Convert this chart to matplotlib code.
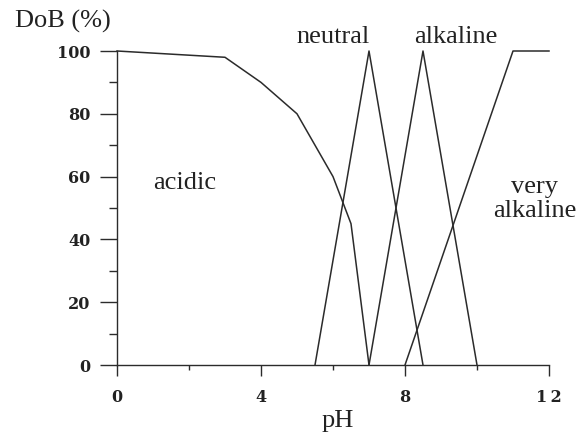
import matplotlib
matplotlib.use("Agg")
import matplotlib.pyplot as plt
from matplotlib.ticker import MultipleLocator

# Data
acidic_x = [0, 3, 4, 5, 6, 6.5, 7]
acidic_y = [100, 98, 90, 80, 60, 45, 0]
neutral_x = [5.5, 7, 8.5]
neutral_y = [0, 100, 0]
alkaline_x = [7, 8.5, 10]
alkaline_y = [0, 100, 0]
very_x = [8, 11, 12]
very_y = [0, 100, 100]
xticks = [0, 4, 8, 12]
xtick_labels = ["0", "4", "8", "1\u20092"]
yticks = [0, 20, 40, 60, 80, 100]

W, H = 581, 434
fig = plt.figure(figsize=(W / 100, H / 100), dpi=100)
ax = fig.add_axes([117 / W, 1 - 365 / H, (549 - 117) / W, (365 - 51) / H])

lc = "#2b2b2b"
for xs, ys in [(acidic_x, acidic_y), (neutral_x, neutral_y),
               (alkaline_x, alkaline_y), (very_x, very_y)]:
    ax.plot(xs, ys, color=lc, lw=1.1, clip_on=False)

ax.set_xlim(0, 12)
ax.set_ylim(0, 100)
for s in ["top", "right"]:
    ax.spines[s].set_visible(False)
for s in ["left", "bottom"]:
    ax.spines[s].set_color(lc)
    ax.spines[s].set_linewidth(1.0)

ax.set_xticks(xticks)
ax.set_xticklabels(xtick_labels)
ax.set_yticks(yticks)
ax.xaxis.set_minor_locator(MultipleLocator(2))
ax.yaxis.set_minor_locator(MultipleLocator(10))
ax.tick_params(axis="x", which="major", direction="out", length=8, width=1.0,
               color=lc, pad=9)
ax.tick_params(axis="x", which="minor", direction="out", length=3.6, width=1.0, color=lc)
ax.tick_params(axis="y", which="major", direction="out", length=12.2, width=1.0,
               color=lc, pad=7)
ax.tick_params(axis="y", which="minor", direction="out", length=5.8, width=1.0, color=lc)
for lab in ax.get_xticklabels() + ax.get_yticklabels():
    lab.set_fontfamily("DejaVu Serif")
    lab.set_fontweight("bold")
    lab.set_fontsize(11.5)
    lab.set_color("#222222")

tf = dict(family="Liberation Serif", fontsize=19, color="#222222")
ax.text(1.89, 56, "acidic", ha="center", va="baseline", **tf)
ax.text(5.99, 102.5, "neutral", ha="center", va="baseline", **tf)
ax.text(9.41, 102.5, "alkaline", ha="center", va="baseline", **tf)
ax.text(11.6, 54.8, "very", ha="center", va="baseline", **tf)
ax.text(11.6, 47.1, "alkaline", ha="center", va="baseline", **tf)

fig.text(15 / W, 1 - 28 / H, "DoB (%)", ha="left", va="baseline", **tf)
fig.text(338 / W, 1 - 427 / H, "pH", ha="center", va="baseline", **tf)

fig.savefig("out.png", dpi=100)
